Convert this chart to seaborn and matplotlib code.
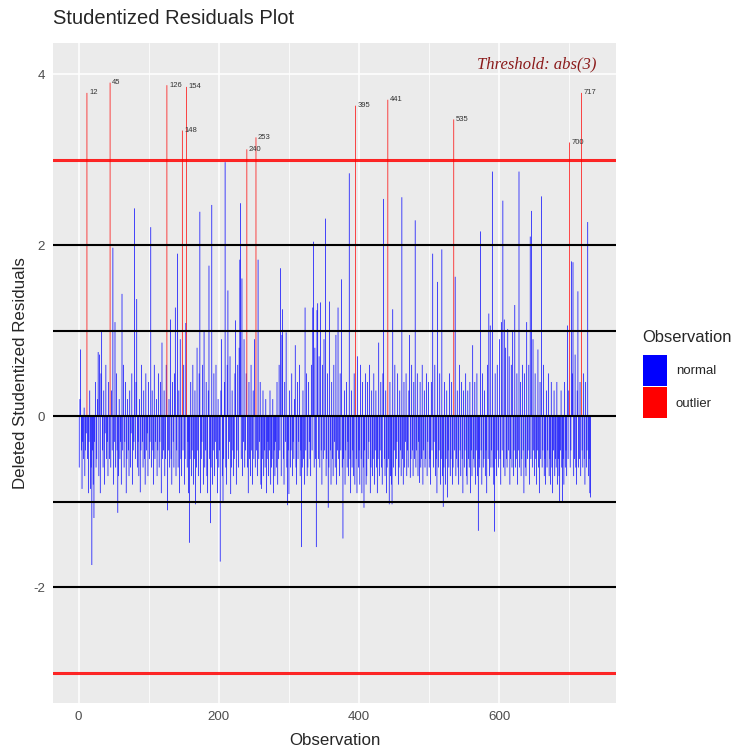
import numpy as np
import pandas as pd
import matplotlib
matplotlib.use('Agg')
import matplotlib.pyplot as plt
from matplotlib import font_manager
import seaborn as sns
from matplotlib.ticker import MultipleLocator

resid = [
    -0.6, 0.2, 0.78, -0.4, -0.85, -0.3, -0.5, 0.1, -0.7, -0.4,
    -0.2, 3.78, -0.5, -0.9, -0.3, 0.3, -0.85, -0.6, -1.74, -0.4,
    -0.8, -1.19, -0.3, 0.4, -0.6, -0.5, 0.2, 0.75, -0.7, 0.72,
    -0.9, 0.5, 0.99, -0.4, -0.6, 0.3, -0.8, -0.2, 0.6, -0.5,
    -0.3, -0.7, 0.4, -0.5, 3.9, -0.6, 0.3, -0.4, 1.97, -0.8,
    -0.3, 1.1, -0.6, 0.5, -0.4, -1.13, -0.7, 0.2, -0.5, -0.3,
    -0.8, 1.43, -0.4, 0.6, -0.6, -0.3, 0.4, -0.9, -0.5, 0.2,
    -0.4, -0.7, 0.3, -0.6, -0.2, 0.5, -0.8, -0.4, -0.3, 2.43,
    -0.5, 0.4, 1.37, -0.6, -0.3, -0.7, 0.2, -0.89, -0.4, 0.6,
    -0.3, -0.6, 0.3, -0.5, -0.8, 0.5, -0.4, -0.2, -0.7, 0.4,
    -0.5, -0.3, 2.21, -0.6, 0.3, -0.4, -0.8, 0.6, -0.5, -0.3,
    0.2, -0.7, -0.4, 0.5, -0.6, -0.3, 0.4, -0.9, 0.86, -0.5,
    -0.4, 0.3, -0.7, -0.5, 0.6, 3.87, -1.1, -0.4, 0.2, -0.6,
    1.13, -0.5, -0.8, 0.4, -0.3, -0.6, 0.5, 1.27, -0.7, -0.4,
    1.9, -0.6, 0.3, -0.9, 0.9, -0.5, -0.7, 3.34, -0.4, 0.6,
    -0.8, -0.5, 1.09, 3.85, -0.6, -0.3, -0.9, -1.48, -0.5, 0.4,
    -0.7, -0.4, 0.6, -0.8, -0.5, 0.3, -1.03, -0.6, 0.8, -0.4,
    -0.7, 0.5, 2.39, -0.9, -0.5, -0.3, 0.6, -0.8, 0.99, -0.6,
    -0.4, 0.4, -0.7, -0.9, 0.3, 1.76, -0.5, -1.25, -0.6, 2.47,
    -0.8, -0.4, 0.5, -0.7, -0.3, 0.6, -0.5, -0.9, 0.2, -0.6,
    -0.4, -1.7, 0.3, 0.9, -0.7, -0.99, -0.5, 0.4, 2.97, -0.6,
    -0.8, 0.6, 1.47, -0.5, -0.3, 0.7, -0.91, -0.6, 0.3, -0.4,
    -0.7, -0.5, 0.5, 1.12, -0.8, -0.4, 0.6, -0.6, 0.8, 1.83,
    2.49, -0.5, 1.61, -0.7, -0.3, 0.9, -0.6, -0.4, 0.5, 3.12,
    -0.6, -0.9, 0.4, -0.5, -0.7, 0.6, -0.4, -0.8, 0.3, -0.5,
    0.9, -0.6, 3.26, -0.4, -0.7, 1.83, -0.5, -0.3, 0.4, -0.8,
    -0.85, -0.5, 0.3, -0.7, -0.4, -0.6, 0.2, -0.9, -0.5, -0.3,
    -0.7, -0.4, 0.3, -0.8, -0.6, -0.5, 0.2, -0.9, -0.4, -0.7,
    -0.3, -0.6, 0.4, -0.8, -0.5, 0.6, -0.4, 1.73, -0.7, 0.95,
    1.25, -0.5, -0.8, 0.4, -0.3, 0.98, -0.6, -1.04, -0.4, -0.91,
    0.3, -0.6, -0.4, 0.5, -0.7, -0.3, -0.5, 0.2, 0.83, -0.6,
    -0.8, 0.4, -0.5, -0.3, 0.6, -0.7, -0.4, -1.53, -0.6, 0.3,
    -0.5, -0.8, 1.27, -0.4, 0.5, -0.7, -0.6, 0.4, -0.3, -0.5,
    -0.7, 0.6, -0.4, 1.27, 2.04, -0.6, 0.8, -0.5, -1.53, 1.24,
    1.32, -0.5, 0.7, -0.6, 1.33, -0.4, -0.8, 0.6, -0.5, 0.9,
    -0.4, 2.31, -0.7, -0.5, 0.5, -1.07, -0.6, 1.34, -0.4, -0.8,
    0.4, -0.5, -0.7, 0.6, -0.3, -0.6, 0.95, -0.8, -0.4, 1.27,
    -0.5, -0.7, 0.5, -0.4, 1.6, -0.6, -1.43, -0.5, 0.3, -0.8,
    -0.4, 0.4, -0.6, -0.3, -0.7, 2.84, -0.5, -0.9, 0.3, -0.6,
    -0.4, -0.7, 0.5, -0.8, 3.63, -0.5, -0.9, 0.7, -0.6, -0.4,
    -0.8, 0.6, -0.5, -0.9, 0.4, -0.6, -1.07, -0.4, 0.5, -0.8,
    -0.7, 0.4, -0.5, -0.3, 0.6, -0.9, -0.6, 0.3, -0.7, -0.5,
    0.5, -0.8, -0.4, 0.3, -0.6, -0.9, -0.5, 0.86, -0.7, -0.4,
    0.4, -0.6, -0.8, 0.5, 2.54, -0.5, -0.7, 0.3, -0.9, -0.6,
    3.7, -0.5, -1.03, 0.4, -0.7, -0.8, -1.03, 1.25, -0.6, -0.4,
    0.6, -0.7, -0.5, -0.3, 0.5, -0.8, -0.6, 0.3, -0.4, -0.7,
    2.56, -0.5, -0.8, 0.4, -0.6, -0.3, 0.5, -0.7, -0.4, -0.6,
    0.3, 0.95, -0.72, -0.5, 0.6, -0.4, -0.7, 0.4, -0.5, 2.29,
    -0.6, -0.4, 0.5, -0.7, -0.3, -0.78, 0.4, -0.6, -0.5, 0.6,
    -0.8, -0.4, 0.3, -0.6, -0.5, 0.5, -0.7, -0.3, 0.4, -0.6,
    -0.5, -0.8, 0.4, -0.4, 1.9, -0.6, -0.3, 0.6, -0.7, -0.5,
    -0.9, 1.57, -0.6, -0.4, 0.5, -0.8, -0.5, 1.95, -0.7, -1.06,
    -0.6, 0.4, -0.8, -0.5, 0.3, -0.95, -0.4, -0.6, 0.5, -0.7,
    -0.5, 0.4, -0.8, -0.6, 3.47, -0.4, 1.63, -0.7, -0.5, 0.3,
    -0.6, -0.8, 0.6, -0.4, -0.7, 0.4, -0.5, -0.9, 0.3, -0.6,
    -0.4, 0.5, -0.7, -0.8, 0.3, -0.5, -0.6, 0.4, -0.9, -0.4,
    -0.7, 0.83, -0.5, -0.6, 0.4, -0.8, -0.4, 0.5, -0.7, -1.34,
    -0.5, -0.6, 2.16, -0.4, -0.8, 0.5, -0.6, -0.5, 0.3, -0.7,
    -0.4, -0.9, 0.6, -0.5, 1.2, -0.7, 1.06, -0.6, -0.4, 2.86,
    -0.6, -0.8, -1.35, 0.5, -0.5, -0.7, 0.6, -0.4, -0.6, 0.9,
    -0.5, -0.8, 1.1, -0.4, 2.52, -0.6, 1.13, -0.7, 0.8, -0.5,
    -0.6, 1.02, -0.4, 0.7, -0.8, -0.5, 0.6, -0.6, 0.99, -0.7,
    -0.4, 1.3, -0.6, -0.5, 0.5, -0.8, -0.4, 2.86, -0.6, 0.4,
    -0.7, -0.5, 0.6, -0.4, -0.9, 0.5, -0.6, -0.7, 1.1, -0.5,
    -0.4, 0.6, -0.8, 2.1, -0.5, 2.4, -0.6, 0.9, -0.4, -0.7,
    0.5, -0.5, -0.8, -0.4, 0.78, -0.6, -0.9, 0.4, -0.5, 2.57,
    -0.6, -0.4, 0.6, -0.7, -0.5, -0.8, 0.3, -0.6, -0.4, 0.5,
    -0.7, -0.5, -0.8, 0.4, -0.6, -0.9, -0.4, 0.3, -0.7, -0.5,
    -0.6, 0.4, -0.8, -0.5, -0.7, -1.0, -0.4, 0.3, -0.6, -1.0,
    -0.5, -0.8, 0.4, -0.6, -0.4, -0.7, 1.06, -0.5, 0.3, 3.2,
    -0.6, -0.4, 1.81, 0.5, 1.8, -0.7, -0.5, 0.72, -0.6, -0.8,
    0.3, 1.46, -0.6, -0.5, 0.4, -0.7, 3.78, -0.4, -0.6, 0.5,
    -0.5, -0.8, 0.4, -0.6, -0.4, 2.27, -0.7, -0.5, -0.9, -0.95,
]
threshold = 3
ref_lines = [2, 1, 0, -1, -2]
groups = ['normal', 'outlier']
colors = {'normal': 'blue', 'outlier': 'red'}

df = pd.DataFrame({'obs': np.arange(1, len(resid) + 1), 'resid': resid})
df['Observation'] = np.where(df['resid'].abs() > threshold, 'outlier', 'normal')

sns.set_style('darkgrid', {'axes.facecolor': '#EBEBEB', 'grid.color': 'white'})
# the source text is narrow and tall; use a narrow face when present
names = {f.name for f in font_manager.fontManager.ttflist}
if 'Liberation Sans Narrow' in names:
    fam, k = 'Liberation Sans Narrow', 1.0
else:
    fam, k = 'Liberation Sans', 0.84
plt.rcParams['font.family'] = [fam, 'DejaVu Sans']
plt.rcParams['axes.unicode_minus'] = False

fig = plt.figure(figsize=(7.45, 7.53), dpi=100)
ax = fig.add_axes([0.0715, 0.0668, 0.756, 0.8757])
sns.barplot(data=df, x='obs', y='resid', hue='Observation', hue_order=groups,
            palette=colors, saturation=1, native_scale=True, dodge=False, width=1.0,
            linewidth=0, edgecolor='none', errorbar=None, snap=False, ax=ax)

for h in ref_lines:
    ax.axhline(h, color='black', lw=1.5, zorder=3)
for h in [threshold, -threshold]:
    ax.axhline(h, color='red', lw=2.2, alpha=0.85, zorder=3)

out = df[df['Observation'] == 'outlier']
for o, r in zip(out['obs'], out['resid']):
    ax.text(o + 3, r, str(o), fontsize=6.5 * k, color='#333333', ha='left', va='center', zorder=4)

ax.text(0.965, 0.9686, 'Threshold: abs(3)', transform=ax.transAxes, ha='right', va='center',
        family='Liberation Serif', style='italic', color='#8B1A1A', fontsize=12)

ax.set_xlim(-36, 767)
ax.set_ylim(-3.35, 4.36)
ax.xaxis.set_major_locator(MultipleLocator(200))
ax.xaxis.set_minor_locator(MultipleLocator(100))
ax.yaxis.set_major_locator(MultipleLocator(2))
ax.yaxis.set_minor_locator(MultipleLocator(1))
ax.grid(which='major', color='white', lw=1.1)
ax.grid(which='minor', color='white', lw=0.55)
ax.set_axisbelow(True)
for s in ax.spines.values():
    s.set_visible(False)
ax.tick_params(which='major', length=3.5, color='#333333', labelsize=11.5 * k,
               labelcolor='#4D4D4D', pad=2.5)
ax.tick_params(which='minor', length=0)
ax.set_xlabel('Observation', fontsize=14.5 * k, labelpad=7)
ax.set_ylabel('Deleted Studentized Residuals', fontsize=14.5 * k, labelpad=4)

fs = 11.2 * k
fpx = fs * 100 / 72
sns.move_legend(ax, 'center left', bbox_to_anchor=(636 / 745, 1 - 374 / 753),
                bbox_transform=fig.transFigure, frameon=False, borderpad=0,
                title='Observation', title_fontsize=14.2 * k, fontsize=fs,
                handlelength=24 / fpx, handleheight=3.27,
                handletextpad=0.7, labelspacing=0.1)
leg = ax.get_legend()
leg._legend_box.align = 'left'
leg._legend_box.sep = fs * 0.1 + 6.5  # more room between title and keys

fig.text(0.0716, 0.9755, 'Studentized Residuals Plot', fontsize=17.3 * k, va='center', ha='left')

fig.savefig('out.png', dpi=100)
